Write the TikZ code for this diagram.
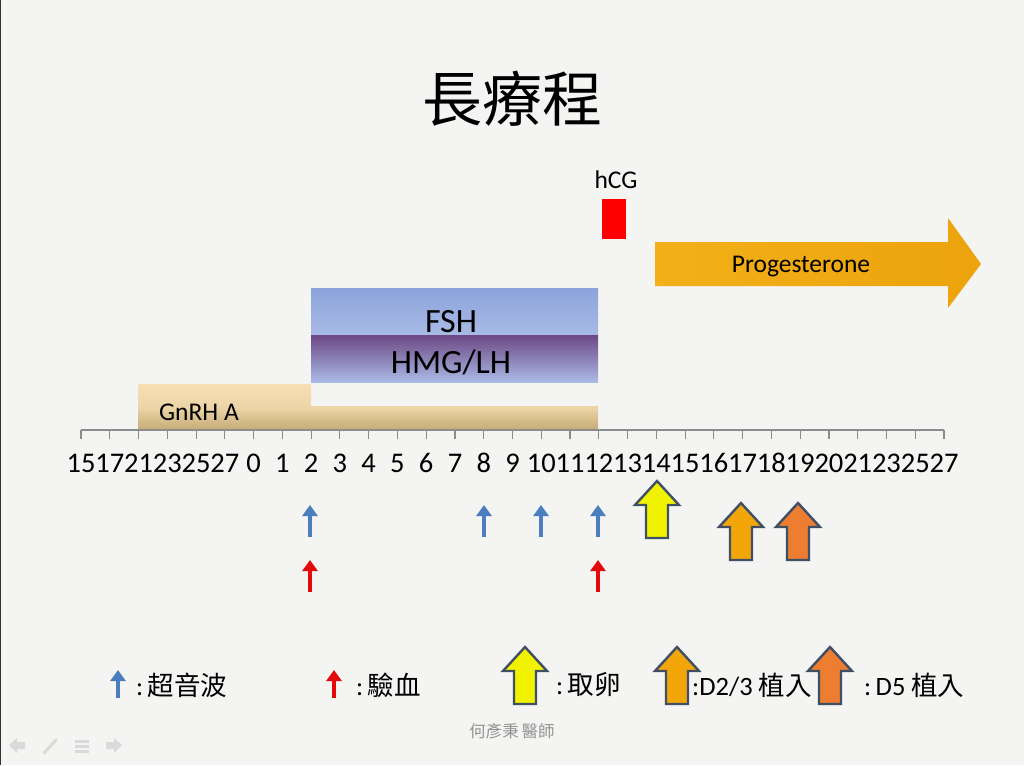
\documentclass[tikz,border=0pt]{standalone}
\usepackage{fontspec}
\setmainfont{Carlito}
\newfontfamily\cjk{Noto Sans CJK TC}
\usetikzlibrary{arrows.meta}
\definecolor{bg}{RGB}{244,244,242}
\definecolor{axisgray}{RGB}{140,140,140}
\definecolor{usblue}{RGB}{74,126,190}
\definecolor{bloodred}{RGB}{226,10,10}
\definecolor{outl}{RGB}{64,80,100}
\definecolor{yel}{RGB}{240,242,0}
\definecolor{oran}{RGB}{242,166,10}
\definecolor{oran2}{RGB}{237,125,49}
\definecolor{gn1}{RGB}{247,223,180}
\definecolor{gn2}{RGB}{236,214,168}
\definecolor{gn3}{RGB}{196,170,118}
\definecolor{fsh1}{RGB}{140,164,218}
\definecolor{fsh2}{RGB}{168,186,230}
\definecolor{hmg1}{RGB}{108,72,132}
\definecolor{hmg2}{RGB}{170,186,230}
\definecolor{prog1}{RGB}{243,176,24}
\definecolor{prog2}{RGB}{236,163,12}
\definecolor{icon}{RGB}{218,218,218}
\newcommand{\blockarrow}[4]{% cx, tip y, colour, name
  \draw[blockar, fill=#3] (#1,#2) -- ++(22,24) -- ++(-11,0) -- ++(0,33) -- ++(-22,0) -- ++(0,-33) -- ++(-11,0) -- cycle;
  \coordinate (#4) at (#1,#2);}
\begin{document}
\begin{tikzpicture}[x=1pt,y=-1pt,
  blockar/.style={draw=outl, line width=2.4pt, line join=miter},
  smallar/.style={line width=3.4pt, -{Triangle[width=15pt,length=11pt]}},
  tick/.style={draw=axisgray, line width=1.1pt},
  lbl/.style={font=\fontsize{28.5}{28.5}\selectfont, inner sep=0pt},
  leg/.style={anchor=west, inner sep=0pt, font=\fontsize{26.5}{26.5}\selectfont},
  midtext/.style={font=\fontsize{25.5}{25.5}\selectfont, inner sep=0pt},
  bartext/.style={font=\fontsize{34}{34}\selectfont, inner sep=0pt}]
\fill[bg] (0,0) rectangle (1024,765);
\useasboundingbox (0,0) rectangle (1024,765);
\draw[black!80, line width=1.2pt] (0.6,0) -- (0.6,765);
% title
\node[font=\cjk\fontsize{60}{60}\selectfont, inner sep=0pt] (title) at (512,99) {長療程};
% hCG
\node[midtext] (hcg) at (616,180) {hCG};
\fill[red] (602,199) rectangle (626,239);
% progesterone
\shade[left color=prog1, right color=prog2] (655,242) -- (948,242) -- (948,218) -- (981,264) -- (948,308) -- (948,286) -- (655,286) -- cycle;
\node[midtext] (prog) at (801,267) {Progesterone};
% FSH / HMG
\shade[top color=fsh1, bottom color=fsh2] (311,288) rectangle (598,335);
\shade[top color=hmg1, bottom color=hmg2] (311,335) rectangle (598,382);
\node[bartext] (fsh) at (451,322) {FSH};
\node[bartext] (hmg) at (451,362) {HMG/LH};
% GnRH
\shade[top color=gn1, bottom color=gn3, middle color=gn2] (138,384) -- (311,384) -- (311,406) -- (598,406) -- (598,430) -- (138,430) -- cycle;
\node[midtext] (gnrh) at (199,412) {GnRH A};
% axis
\draw[tick] (81,430) -- (944,430);
\foreach \i in {0,...,30} \draw[tick] (81+28.767*\i,430) -- ++(0,9);
\foreach \l [count=\i from 0] in {15,17,21,23,25,27,0,1,2,3,4,5,6,7,8,9,10,11,12,13,14,15,16,17,18,19,20,21,23,25,27}
  \node[lbl] (t\i) at (81+28.767*\i,463) {\l};
% small arrows
\foreach \x in {310,484,541,598} \draw[smallar, usblue] (\x,537) -- (\x,505);
\foreach \x in {310,598} \draw[smallar, bloodred] (\x,592) -- (\x,560);
% block arrows
\blockarrow{657}{481}{yel}{ret}
\blockarrow{741}{503}{oran}{d23}
\blockarrow{798}{503}{oran2}{d5}
% legend
\draw[smallar, usblue] (118,698) -- (118,670);
\node[leg] (l1) at (136,685) {:\,{\cjk 超音波}};
\draw[smallar, bloodred] (334,698) -- (334,670);
\node[leg] (l2) at (356,685) {:\,{\cjk 驗血}};
\blockarrow{525}{647}{yel}{lg3}
\node[leg] (l3) at (556,685) {:\,{\cjk 取卵}};
\blockarrow{677}{647}{oran}{lg4}
\node[leg] (l4) at (692,685) {:D2/3 {\cjk 植入}};
\blockarrow{830}{647}{oran2}{lg5}
\node[leg] (l5) at (864,685) {:\,D5 {\cjk 植入}};
% watermark
\node[font=\cjk\fontsize{16.5}{16.5}\selectfont, text=black!42, inner sep=0pt] (wm) at (512,731) {何彥秉\,醫師};
% nav icons
\fill[icon] (9,745) -- (17,738) -- (17,742) -- (25,742) -- (25,749) -- (17,749) -- (17,753) -- cycle;
\draw[icon, line width=3pt, line cap=round] (44,753) -- (56,740);
\foreach \yy in {740,745,750} \fill[icon] (75,\yy) rectangle (89,\yy+3);
\fill[icon] (122,745) -- (114,738) -- (114,742) -- (106,742) -- (106,749) -- (114,749) -- (114,753) -- cycle;
\end{tikzpicture}
\end{document}
